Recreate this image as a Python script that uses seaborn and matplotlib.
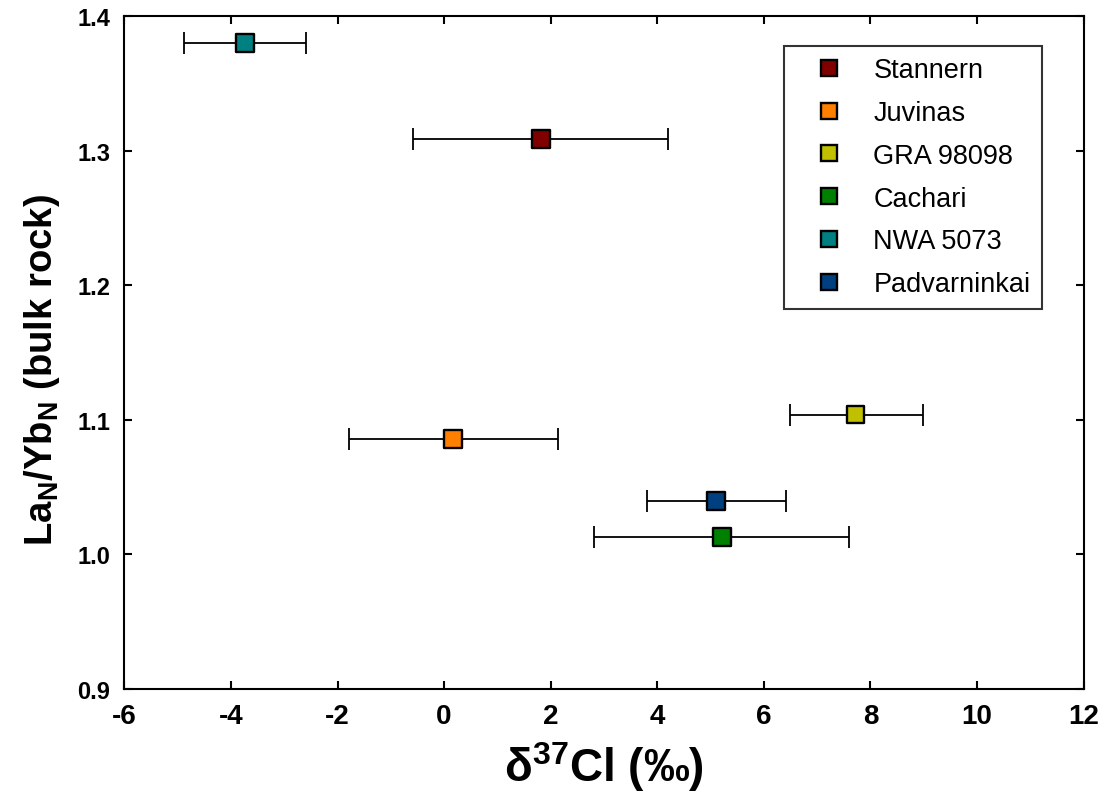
import pandas as pd
import matplotlib
matplotlib.use('Agg')
import matplotlib.pyplot as plt
from matplotlib.lines import Line2D
import seaborn as sns

# Values
samples = ['Stannern', 'Juvinas', 'GRA 98098', 'Cachari', 'NWA 5073', 'Padvarninkai']
d37cl = [1.82, 0.16, 7.72, 5.21, -3.74, 5.10]
la_yb = [1.309, 1.086, 1.104, 1.013, 1.380, 1.040]
err_lo = [-0.59, -1.79, 6.49, 2.81, -4.88, 3.81]
err_hi = [4.20, 2.13, 8.98, 7.60, -2.60, 6.41]
colors = ['#800000', '#FF8000', '#C0C000', '#008000', '#008080', '#004080']

df = pd.DataFrame({'Sample': samples, 'd37Cl': d37cl, 'LaYb': la_yb,
                   'lo': err_lo, 'hi': err_hi})
palette = dict(zip(samples, colors))

sns.set_style('ticks')
plt.rcParams['font.family'] = ['Liberation Sans', 'DejaVu Sans']
plt.rcParams['axes.unicode_minus'] = False
plt.rcParams['text.color'] = 'black'
plt.rcParams['axes.labelcolor'] = 'black'
plt.rcParams['xtick.color'] = 'black'
plt.rcParams['ytick.color'] = 'black'
plt.rcParams['mathtext.fontset'] = 'custom'
plt.rcParams['mathtext.rm'] = 'Liberation Sans:bold'
plt.rcParams['mathtext.it'] = 'Liberation Sans:bold'
plt.rcParams['mathtext.bf'] = 'Liberation Sans:bold'

fig = plt.figure(figsize=(11.04, 8.03), dpi=100)
ax = fig.add_axes([0.1126, 0.1407, 0.8690, 0.8378])

# horizontal error bars
ax.errorbar(df['d37Cl'], df['LaYb'],
            xerr=[df['d37Cl'] - df['lo'], df['hi'] - df['d37Cl']],
            fmt='none', ecolor='black', elinewidth=1.3, capsize=8, capthick=1.3, zorder=2)

sns.scatterplot(data=df, x='d37Cl', y='LaYb', hue='Sample', palette=palette,
                marker='s', s=165, edgecolor='black', linewidth=1.7,
                legend=False, zorder=3, ax=ax)

ax.set_xlim(-6, 12)
ax.set_ylim(0.9, 1.4)
ax.set_xticks(range(-6, 13, 2))
ax.set_yticks([0.9, 1.0, 1.1, 1.2, 1.3, 1.4])
ax.set_yticklabels(['0.9', '1.0', '1.1', '1.2', '1.3', '1.4'])
ax.tick_params(direction='in', length=6, width=1.5, top=True, right=True,
               labeltop=False, labelright=False, pad=10)
for lbl in ax.get_yticklabels():
    lbl.set_fontweight('bold')
    lbl.set_fontsize(17)
for lbl in ax.get_xticklabels():
    lbl.set_fontweight('bold')
    lbl.set_fontsize(20)
for sp in ax.spines.values():
    sp.set_linewidth(1.5)
    sp.set_color('black')

ax.set_xlabel(r'δ$^{37}$Cl (‰)', fontsize=33, fontweight='bold', labelpad=7)
ax.set_ylabel(r'La$_{\mathrm{N}}$/Yb$_{\mathrm{N}}$ (bulk rock)', fontsize=27.5,
              fontweight='bold')
ax.yaxis.set_label_coords(-0.065, 0.476)

handles = [Line2D([0], [0], marker='s', linestyle='none', markersize=12,
                  markerfacecolor=c, markeredgecolor='black', markeredgewidth=1.7)
           for c in colors]
leg = ax.legend(handles, samples, loc='upper right', bbox_to_anchor=(0.9565, 0.956),
                borderaxespad=0, fontsize=19.5, frameon=True, fancybox=False,
                edgecolor='black', labelspacing=0.62, handlelength=2.5,
                handletextpad=0.4, borderpad=0.42)
leg.get_frame().set_linewidth(1.5)

fig.savefig('out.png', dpi=100)
